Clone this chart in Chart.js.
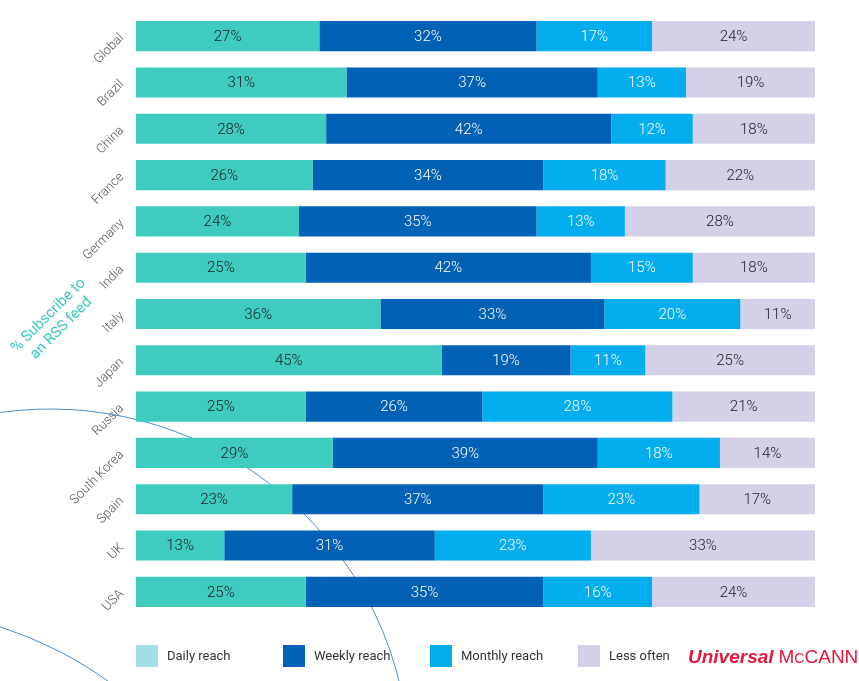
<!DOCTYPE html>
<html lang="en">
<head>
    <meta charset="UTF-8">
    <title>RSS feed reach</title>
    <style>
        body { margin: 0; background: #fff; }
        #wrap { position: relative; width: 859px; height: 681px; }
    </style>
</head>
<body>
    <div id="wrap"><canvas id="myChart"></canvas></div>
    <script src="https://cdn.jsdelivr.net/npm/chart.js"></script>
    <script>
        // data
        const countries = ['Global', 'Brazil', 'China', 'France', 'Germany', 'India', 'Italy', 'Japan', 'Russia', 'South Korea', 'Spain', 'UK', 'USA']
        const daily   = [27, 31, 28, 26, 24, 25, 36, 45, 25, 29, 23, 13, 25]
        const weekly  = [32, 37, 42, 34, 35, 42, 33, 19, 26, 39, 37, 31, 35]
        const monthly = [17, 13, 12, 18, 13, 15, 20, 11, 28, 18, 23, 23, 16]
        const less    = [24, 19, 18, 22, 28, 18, 11, 25, 21, 14, 17, 33, 24]
        const seriesNames = ['Daily reach', 'Weekly reach', 'Monthly reach', 'Less often']

        const barColors    = ['#3fcbc0', '#0061b5', '#04adee', '#d5d0e8']
        const legendColors = ['#a2dfe5', '#0061b5', '#04adee', '#d5d0e8']
        const labelColors  = ['#1d1d1d', '#ffffff', '#ffffff', '#1d1d1d']
        const FONT = 'Roboto, "Liberation Sans", sans-serif'

        // thin decorative arcs behind the bars
        const arcs = {
            id: 'arcs',
            beforeDatasetsDraw(chart) {
                const c = chart.ctx
                c.save()
                c.strokeStyle = '#4a8ccb'
                c.lineWidth = 1
                c.beginPath()
                c.arc(50, 769, 360, Math.PI * 1.3, Math.PI * 1.95)
                c.stroke()
                c.beginPath()
                c.arc(-120, 1000, 392, Math.PI * 1.4, Math.PI * 1.8)
                c.stroke()
                c.restore()
            }
        }

        // value labels inside segments
        const valueLabels = {
            id: 'valueLabels',
            afterDatasetsDraw(chart) {
                const c = chart.ctx
                c.save()
                c.font = '300 15px ' + FONT
                c.textAlign = 'center'
                c.textBaseline = 'middle'
                chart.data.datasets.forEach((ds, i) => {
                    c.fillStyle = labelColors[i]
                    chart.getDatasetMeta(i).data.forEach((bar, j) => {
                        c.fillText(ds.data[j] + '%', (bar.x + bar.base) / 2, bar.y + 1)
                    })
                })
                c.restore()
            }
        }

        // rotated axis title, legend and logo
        const extras = {
            id: 'extras',
            afterDraw(chart) {
                const c = chart.ctx
                c.save()
                c.translate(55, 322)
                c.rotate(-Math.PI / 4)
                c.fillStyle = '#3cc7bd'
                c.font = '15px ' + FONT
                c.textAlign = 'center'
                c.textBaseline = 'middle'
                c.fillText('% Subscribe to', 0, -9)
                c.fillText('an RSS feed', 0, 9)
                c.restore()

                c.save()
                const xs = [136, 283, 430, 578]
                c.font = '13px ' + FONT
                c.textBaseline = 'middle'
                seriesNames.forEach((name, i) => {
                    c.fillStyle = legendColors[i]
                    c.fillRect(xs[i], 645, 22, 22)
                    c.fillStyle = '#333'
                    c.fillText(name, xs[i] + 31, 657)
                })

                c.fillStyle = '#e3173d'
                c.font = 'italic bold 19px "Liberation Sans", sans-serif'
                c.textBaseline = 'alphabetic'
                let x = 688
                c.fillText('Universal', x, 663)
                x += c.measureText('Universal').width + 5
                c.font = '19px "Liberation Sans", sans-serif'
                c.fillText('M', x, 663)
                x += c.measureText('M').width
                c.font = '14px "Liberation Sans", sans-serif'
                c.fillText('C', x, 663)
                x += c.measureText('C').width
                c.font = '19px "Liberation Sans", sans-serif'
                c.fillText('CANN', x, 663)
                c.restore()
            }
        }

        const ctx = document.getElementById('myChart')
        const myChart = new Chart(ctx, {
            type: 'bar',
            data: {
                labels: countries,
                datasets: [daily, weekly, monthly, less].map((d, i) => ({
                    label: seriesNames[i],
                    data: d,
                    backgroundColor: barColors[i],
                    borderWidth: 0,
                    categoryPercentage: 0.65,
                    barPercentage: 1
                }))
            },
            options: {
                indexAxis: 'y',
                responsive: true,
                maintainAspectRatio: false,
                animation: false,
                layout: { padding: { top: 13, right: 44, bottom: 66, left: 0 } },
                plugins: {
                    legend: { display: false },
                    tooltip: { enabled: false }
                },
                scales: {
                    x: { stacked: true, min: 0, max: 100, display: false },
                    y: {
                        stacked: true,
                        grid: { display: false, drawTicks: false },
                        border: { display: false },
                        ticks: {
                            minRotation: 45,
                            maxRotation: 45,
                            padding: 14,
                            color: '#555',
                            font: { family: FONT, size: 13, weight: '300' }
                        },
                        afterFit(scale) {
                            scale.width = 136
                            scale.paddingTop = 0
                            scale.paddingBottom = 0
                        }
                    }
                }
            },
            plugins: [arcs, valueLabels, extras]
        })
    </script>
</body>
</html>
